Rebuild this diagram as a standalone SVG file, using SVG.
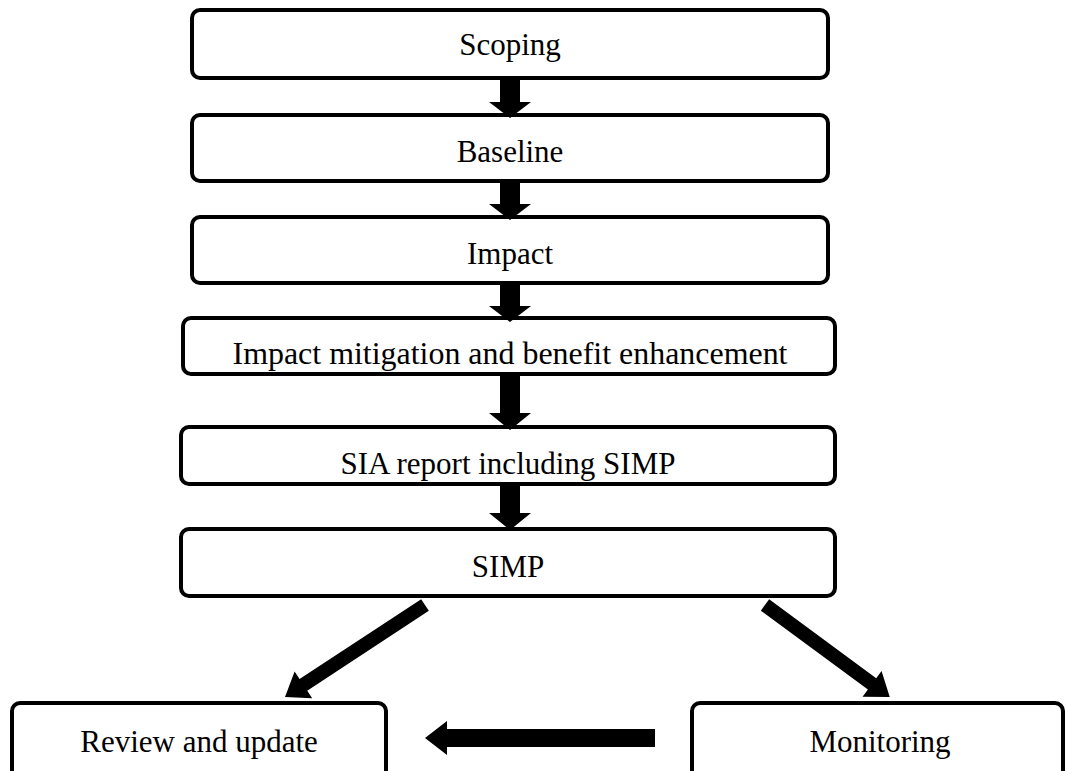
<svg xmlns="http://www.w3.org/2000/svg" width="1065" height="771" viewBox="0 0 1065 771">
<style>
.box{fill:#fff;stroke:#000;stroke-width:4}
.lbl{font-family:"Liberation Serif","Times New Roman",serif;font-size:31px;fill:#000;text-anchor:middle}
.arr{fill:#000}
</style>
<rect width="1065" height="771" fill="#fff"/>
<g id="n1"><rect class="box" x="192" y="10" width="636" height="68" rx="8"/><text class="lbl" x="510" y="55">Scoping</text></g>
<g id="n2"><rect class="box" x="192" y="115" width="636" height="66" rx="8"/><text class="lbl" x="510" y="162">Baseline</text></g>
<g id="n3"><rect class="box" x="192" y="217" width="636" height="66" rx="8"/><text class="lbl" x="510" y="264">Impact</text></g>
<g id="n4"><rect class="box" x="183" y="318" width="652" height="56" rx="8"/><text class="lbl" x="510" y="364" textLength="555" lengthAdjust="spacingAndGlyphs">Impact mitigation and benefit enhancement</text></g>
<g id="n5"><rect class="box" x="181" y="427" width="654" height="57" rx="8"/><text class="lbl" x="508" y="474">SIA report including SIMP</text></g>
<g id="n6"><rect class="box" x="181" y="529" width="654" height="67" rx="8"/><text class="lbl" x="508" y="577">SIMP</text></g>
<g id="n7"><rect class="box" x="12" y="703" width="374" height="80" rx="8"/><text class="lbl" x="199" y="752">Review and update</text></g>
<g id="n8"><rect class="box" x="692" y="703" width="371" height="80" rx="8"/><text class="lbl" x="880" y="752">Monitoring</text></g>
<g id="connectors">
<polygon class="arr" points="500,78 520,78 520,102 531,102 510,118 489,102 500,102"/>
<polygon class="arr" points="500,181 520,181 520,204 531,204 510,220 489,204 500,204"/>
<polygon class="arr" points="500,283 520,283 520,306 531,306 510,322 489,306 500,306"/>
<polygon class="arr" points="500,374 520,374 520,413 531,413 510,430 489,413 500,413"/>
<polygon class="arr" points="500,484 520,484 520,513 531,513 510,530 489,513 500,513"/>
<polygon class="arr" transform="translate(425,605) rotate(146.7)" points="0,-7 145.5,-7 145.5,-16 167.5,0 145.5,16 145.5,7 0,7"/>
<polygon class="arr" transform="translate(765,605) rotate(36.4)" points="0,-7 133,-7 133,-16 155,0 133,16 133,7 0,7"/>
<polygon class="arr" points="655,729 447,729 447,721 425,738 447,755 447,747 655,747"/>
</g>
</svg>
